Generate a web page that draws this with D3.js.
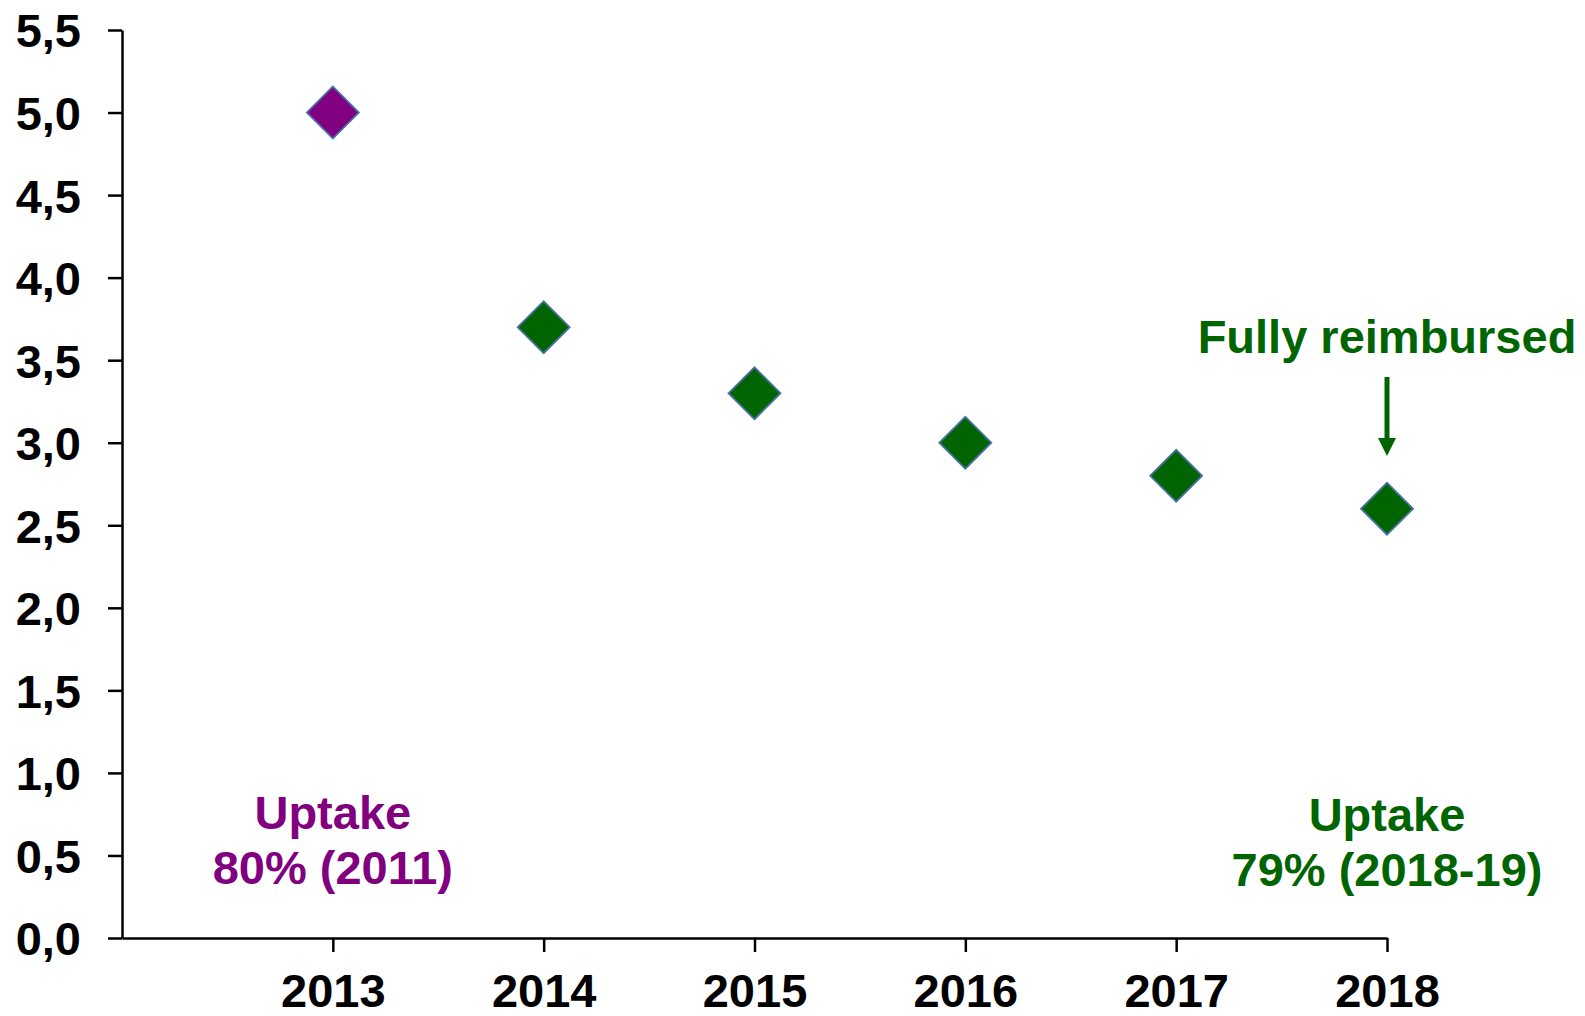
<!DOCTYPE html>
<html>
<head>
<meta charset="utf-8">
<script src="https://cdn.jsdelivr.net/npm/d3@7"></script>
<style>
  html, body { margin: 0; padding: 0; background: #fff; }
  svg { display: block; font-family: "Liberation Sans", Arial, sans-serif; font-weight: bold; }
</style>
</head>
<body>
<svg id="chart" width="1585" height="1016"></svg>
<script>
const years = [2013, 2014, 2015, 2016, 2017, 2018];
const values = [5.0, 3.7, 3.3, 3.0, 2.8, 2.6];
const yTicks = [0, 0.5, 1.0, 1.5, 2.0, 2.5, 3.0, 3.5, 4.0, 4.5, 5.0, 5.5];
const leftNote = ["Uptake", "80% (2011)"];
const rightNote = ["Uptake", "79% (2018-19)"];
const arrowNote = "Fully reimbursed";

const PURPLE = "#800080", GREEN = "#006400";
const svg = d3.select("#chart");

const x = d3.scaleLinear().domain([2012, 2018]).range([122, 1387]);
const y = d3.scaleLinear().domain([0, 5.5]).range([938, 30]);

const fmt = d => d.toFixed(1).replace(".", ",");

// Y axis
const yAxis = svg.append("g").attr("transform", "translate(122,0)")
  .call(d3.axisLeft(y).tickValues(yTicks).tickFormat(fmt).tickSize(14).tickSizeOuter(0).tickPadding(27));
yAxis.select(".domain").attr("stroke", "#000").attr("stroke-width", 2.5);
yAxis.selectAll(".tick line").attr("stroke", "#000").attr("stroke-width", 2.5);
yAxis.selectAll(".tick text").attr("fill", "#000").style("font-size", "47px")
  .style("font-weight", "bold").style("font-family", "'Liberation Sans', Arial, sans-serif").attr("dy", "0.36em");

// X axis
const xAxis = svg.append("g").attr("transform", "translate(0,938)")
  .call(d3.axisBottom(x).tickValues(years).tickFormat(d3.format("d")).tickSize(14).tickSizeOuter(0).tickPadding(22));
xAxis.select(".domain").attr("stroke", "#000").attr("stroke-width", 2.5);
xAxis.selectAll(".tick line").attr("stroke", "#000").attr("stroke-width", 2.5);
xAxis.selectAll(".tick text").attr("fill", "#000").style("font-size", "47px")
  .style("font-weight", "bold").style("font-family", "'Liberation Sans', Arial, sans-serif");

// Points (diamonds)
const sym = d3.symbol().type(d3.symbolSquare).size(1352);
svg.append("g").selectAll("path").data(years.map((yr, i) => ({yr, v: values[i], i})))
  .join("path")
  .attr("d", sym)
  .attr("transform", d => `translate(${x(d.yr)},${y(d.v)}) rotate(45)`)
  .attr("fill", d => d.i === 0 ? PURPLE : GREEN)
  .attr("stroke", "#4a70a8")
  .attr("stroke-width", 1.8);

// Annotations
function note(lines, xc, y0, color) {
  const t = svg.append("text").attr("text-anchor", "middle").attr("fill", color)
    .style("font-size", "47px").style("font-weight", "bold");
  lines.forEach((l, i) => t.append("tspan").attr("x", xc).attr("y", y0 + i * 55).text(l));
}
note(leftNote, x(2013), 829, PURPLE);
note(rightNote, x(2018), 831, GREEN);

svg.append("text").attr("x", x(2018)).attr("y", 353).attr("text-anchor", "middle")
  .attr("fill", GREEN).style("font-size", "47px").style("font-weight", "bold").text(arrowNote);

// Arrow
const ax = x(2018);
svg.append("line").attr("x1", ax).attr("x2", ax).attr("y1", 377).attr("y2", 440)
  .attr("stroke", GREEN).attr("stroke-width", 5);
svg.append("path").attr("d", `M${ax - 9},438 L${ax + 9},438 L${ax},456 Z`).attr("fill", GREEN);
</script>
</body>
</html>
